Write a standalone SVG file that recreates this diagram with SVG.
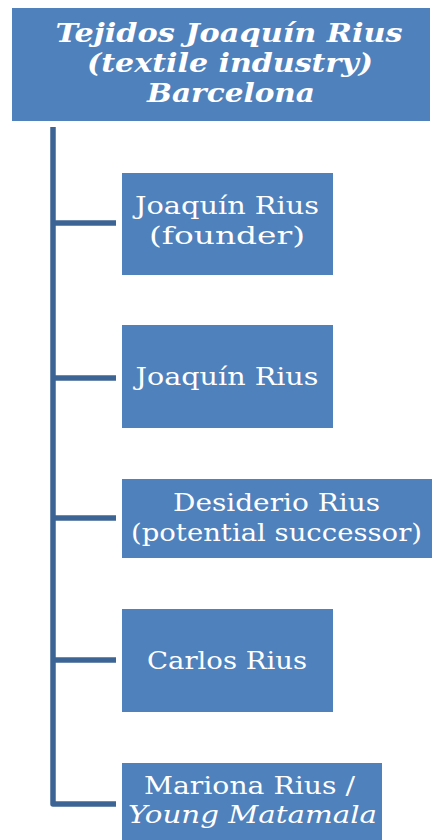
<svg xmlns="http://www.w3.org/2000/svg" width="435" height="840" viewBox="0 0 435 840">
<style>
.box{fill:#4F81BD;}
.conn{fill:none;stroke:#3C6595;stroke-width:5.5;stroke-linejoin:round;}
.t{fill:#FFFFFF;font-family:"DejaVu Serif","Liberation Serif",serif;font-size:25px;text-anchor:middle;}
.title{fill:#FFFFFF;font-family:"DejaVu Serif","Liberation Serif",serif;font-size:26px;font-weight:bold;font-style:italic;text-anchor:middle;}
.it{font-style:italic;}
</style>
<rect width="435" height="840" fill="#FFFFFF"/>
<g id="connectors">
<path class="conn" d="M53,127 V804 H116"/>
<path class="conn" d="M53,223 H116"/>
<path class="conn" d="M53,378 H116"/>
<path class="conn" d="M53,518 H116"/>
<path class="conn" d="M53,660 H116"/>
</g>
<g id="root">
<rect class="box" x="12" y="8" width="418" height="113"/>
<text class="title" x="229" y="42" textLength="347" lengthAdjust="spacingAndGlyphs">Tejidos Joaquín Rius</text>
<text class="title" x="230" y="72" textLength="286" lengthAdjust="spacingAndGlyphs">(textile industry)</text>
<text class="title" x="231" y="102" textLength="168" lengthAdjust="spacingAndGlyphs">Barcelona</text>
</g>
<g id="node1">
<rect class="box" x="122" y="173" width="211" height="102"/>
<text class="t" x="227" y="214" textLength="184" lengthAdjust="spacingAndGlyphs">Joaquín Rius</text>
<text class="t" x="227" y="244" textLength="156" lengthAdjust="spacingAndGlyphs">(founder)</text>
</g>
<g id="node2">
<rect class="box" x="122" y="325" width="211" height="103"/>
<text class="t" x="227" y="385" textLength="183" lengthAdjust="spacingAndGlyphs">Joaquín Rius</text>
</g>
<g id="node3">
<rect class="box" x="122" y="479" width="310" height="79"/>
<text class="t" x="276.5" y="511" textLength="207" lengthAdjust="spacingAndGlyphs">Desiderio Rius</text>
<text class="t" x="276.5" y="541" textLength="291" lengthAdjust="spacingAndGlyphs">(potential successor)</text>
</g>
<g id="node4">
<rect class="box" x="122" y="609" width="211" height="103"/>
<text class="t" x="227" y="669" textLength="160" lengthAdjust="spacingAndGlyphs">Carlos Rius</text>
</g>
<g id="node5">
<rect class="box" x="122" y="763" width="260" height="82"/>
<text class="t" x="249.5" y="794" textLength="211" lengthAdjust="spacingAndGlyphs">Mariona Rius /</text>
<text class="t it" x="252.5" y="823" textLength="249" lengthAdjust="spacingAndGlyphs">Young Matamala</text>
</g>
</svg>
